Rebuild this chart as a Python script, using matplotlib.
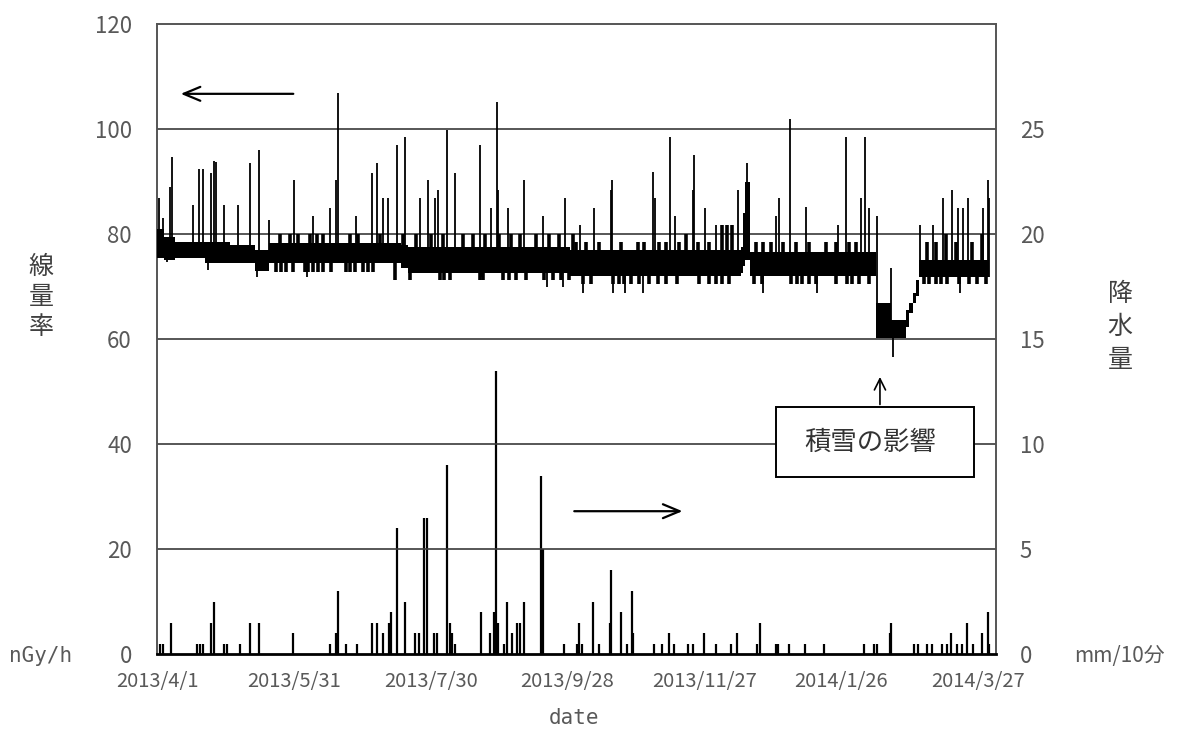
import numpy as np
import matplotlib
matplotlib.use("Agg")
import matplotlib.pyplot as plt
from matplotlib.patches import Rectangle

plt.rcParams['font.family'] = ['Noto Sans CJK JP', 'DejaVu Sans']

# ---------------- data (days since 2013/4/1) ----------------
tick_days = [0, 60, 120, 180, 240, 300, 360]
tick_labels = ["2013/4/1", "2013/5/31", "2013/7/30", "2013/9/28",
               "2013/11/27", "2014/1/26", "2014/3/27"]

# dose-rate band (lower / upper envelope of the dense 10-min series), nGy/h
band_day = [0, 3, 8, 21, 32, 43, 49, 107, 110, 181, 256, 257, 258, 260,
            315.4, 322, 328.5, 330, 331.5, 333, 334.2, 365]
band_lo = [75.5, 75, 75.5, 74.5, 74.5, 73, 74.5, 73.5, 72.5, 72, 72.5, 74, 75, 72,
           60.2, 60.2, 62.3, 64.9, 66.8, 68.1, 71.9, 71.9]
band_hi = [81, 79.5, 78.5, 78.5, 78, 77, 78.3, 78, 77.5, 77, 77.5, 84, 90, 76.5,
           66.9, 63.6, 65.5, 66.8, 68.7, 71.2, 75, 75]

# small upward steps on the band, nGy/h
jag_day = [53.9, 58.3, 61.9, 67.0, 70.0, 72.8, 84.5, 88.2, 97.7, 107.9,
           113.7, 120.3, 125.4, 134.2, 138.6, 143.7, 150.2, 155.4, 159.0, 166.3,
           172.1, 176.5, 182.3, 183.8, 188.2, 194.0, 203.5, 210.8, 213.8, 220.3,
           223.3, 229.1, 232.0, 237.1, 242.2, 248.0, 250.2, 252.4, 262.7, 265.6,
           269.2, 274.4, 280.2, 286.0, 293.3, 297.7, 303.5, 306.5, 337.8, 341.5,
           345.9, 350.3, 357.6, 362.0]
jag_val = [80.0, 80.0, 80.0, 80.0, 80.0, 80.0, 80.0, 80.0, 80.0, 80.0,
           80.0, 80.0, 80.0, 80.0, 80.0, 80.0, 80.0, 80.0, 80.0, 80.0,
           80.0, 80.0, 80.0, 78.5, 78.5, 78.5, 78.5, 78.5, 78.5, 78.5,
           78.5, 78.5, 80.0, 78.5, 78.5, 81.7, 81.7, 81.7, 78.5, 78.5,
           78.5, 78.5, 78.5, 78.5, 78.5, 78.5, 78.5, 78.5, 78.5, 78.5,
           80.0, 78.5, 78.5, 80.0]

# small downward steps on the band, nGy/h
notch_day = [52.4, 54.6, 56.8, 59.7, 64.8, 66.3, 68.5, 70.7, 72.8, 76.5,
             83.1, 84.5, 86.7, 90.4, 92.6, 94.7, 104.2, 110.8, 124.0, 126.1,
             128.3, 141.5, 142.9, 151.7, 154.6, 157.6, 161.9, 169.9, 173.6, 177.3,
             180.9, 186.7, 190.4, 199.9, 202.8, 205.0, 207.9, 211.6, 215.9, 219.6,
             223.3, 227.9, 237.8, 241.9, 245.2, 248.0, 251.0, 261.9, 265.3, 278.0,
             280.9, 283.1, 286.0, 288.9, 297.7, 302.8, 305.0, 307.9, 312.3, 336.4,
             338.6, 341.5, 343.7, 346.6, 351.7, 356.1, 359.7, 363.4]
notch_val = [72.8, 72.8, 72.8, 72.8, 72.8, 72.8, 72.8, 72.8, 72.8, 72.8,
             72.8, 72.8, 72.8, 72.8, 72.8, 72.8, 71.2, 71.2, 71.2, 71.2,
             71.2, 71.2, 71.2, 71.2, 71.2, 71.2, 71.2, 71.2, 71.2, 71.2,
             71.2, 70.5, 70.5, 70.5, 70.5, 70.5, 70.5, 70.5, 70.5, 70.5,
             70.5, 70.5, 70.5, 70.5, 70.5, 70.5, 70.5, 70.5, 70.5, 70.5,
             70.5, 70.5, 70.5, 70.5, 70.5, 70.5, 70.5, 70.5, 70.5, 70.5,
             70.5, 70.5, 70.5, 70.5, 70.5, 70.5, 70.5, 70.5]

# dose-rate peaks, nGy/h
peak_day = [0.9, 2.6, 5.7, 6.6, 15.8,
            18.4, 20.2, 23.7, 25.0, 25.9,
            29.4, 35.5, 40.8, 44.7, 49.1,
            60.1, 68.4, 75.9, 78.5, 79.4,
            87.3, 94.3, 96.5, 99.1, 101.3,
            105.3, 108.8, 115.4, 118.9, 121.9,
            123.2, 127.2, 130.7, 141.7, 146.5,
            149.1, 149.6, 153.9, 161.0, 169.3,
            178.9, 185.5, 191.7, 199.1, 199.6,
            217.5, 218.4, 225.0, 227.2, 235.1,
            235.5, 240.4, 245.2, 250.0, 254.8,
            258.8, 271.5, 272.8, 277.6, 284.6,
            298.7, 302.2, 308.8, 310.5, 312.3,
            315.8, 322.0, 334.6, 340.4, 344.7,
            348.7, 351.3, 353.5, 355.7, 362.3,
            364.3, 364.8]
peak_val = [86.9, 83.0, 89.0, 94.7, 85.5,
            92.4, 92.4, 91.6, 94.0, 93.7,
            85.5, 85.5, 93.5, 96.0, 82.6,
            90.3, 83.4, 85.0, 90.3, 106.8,
            83.4, 91.6, 93.5, 86.9, 86.9,
            97.0, 98.5, 86.9, 90.3, 86.9,
            88.4, 99.8, 91.6, 97.0, 85.0,
            105.1, 88.4, 85.0, 90.3, 83.4,
            86.9, 81.7, 85.0, 88.4, 90.3,
            91.8, 86.9, 98.5, 83.4, 88.4,
            95.0, 85.0, 81.7, 81.7, 88.4,
            93.5, 83.4, 86.9, 101.9, 85.1,
            81.7, 98.5, 86.9, 98.5, 85.0,
            83.4, 73.5, 81.7, 81.7, 86.9,
            88.4, 85.0, 85.0, 86.9, 85.0,
            90.3, 86.9]

# dose-rate dips, nGy/h
dip_day = [4.4, 22.4, 43.9, 65.8, 142.5, 171.1, 178.1, 186.8, 200.0, 205.3,
           213.2, 265.8, 289.5, 322.8, 352.2]
dip_val = [74.7, 73.1, 71.8, 71.8, 71.8, 69.9, 69.9, 68.8, 68.8, 68.8,
           68.8, 68.8, 68.8, 56.6, 68.8]

# precipitation, mm/10min
rain_day = [1.5, 2.5, 6.1, 17.5, 18.8, 20.1, 23.7, 25.0, 29.3, 30.7,
            36.4, 40.7, 44.7, 59.6, 75.8, 78.4, 79.3, 82.8, 87.6, 94.2,
            96.4, 99.0, 101.6, 102.5, 105.1, 108.6, 113.0, 114.8, 116.9, 118.3,
            121.3, 122.6, 127.0, 128.3, 129.2, 130.5, 141.9, 145.9, 148.0, 148.9,
            149.4, 152.0, 153.7, 155.5, 157.7, 159.0, 160.8, 168.6, 169.1, 178.7,
            184.0, 185.3, 186.6, 191.4, 194.0, 198.9, 199.3, 203.7, 206.3, 208.5,
            208.9, 218.1, 221.6, 224.7, 226.9, 233.0, 235.2, 240.0, 245.3, 251.9,
            254.5, 263.2, 264.6, 271.6, 272.4, 277.3, 284.3, 292.6, 310.1, 314.5,
            315.8, 321.5, 321.9, 332.0, 333.8, 337.7, 339.9, 344.3, 346.5, 348.2,
            350.9, 353.0, 355.2, 357.9, 361.8, 364.5, 364.9]
rain_mm = [0.5, 0.5, 1.5, 0.5, 0.5, 0.5, 1.5, 2.5, 0.5, 0.5,
           0.5, 1.5, 1.5, 1.0, 0.5, 1.0, 3.0, 0.5, 0.5, 1.5,
           1.5, 1.0, 1.5, 2.0, 6.0, 2.5, 1.0, 1.0, 6.5, 6.5,
           1.0, 1.0, 9.0, 1.5, 1.0, 0.5, 2.0, 1.0, 2.0, 13.5,
           1.5, 0.5, 2.5, 1.0, 1.5, 1.5, 2.5, 8.5, 5.0, 0.5,
           0.5, 1.5, 0.5, 2.5, 0.5, 1.5, 4.0, 2.0, 0.5, 3.0,
           1.0, 0.5, 0.5, 1.0, 0.5, 0.5, 0.5, 1.0, 0.5, 0.5,
           1.0, 0.5, 1.5, 0.5, 0.5, 0.5, 0.5, 0.5, 0.5, 0.5,
           0.5, 1.0, 1.5, 0.5, 0.5, 0.5, 0.5, 0.5, 0.5, 1.0,
           0.5, 0.5, 1.5, 0.5, 1.0, 2.0, 0.5]

# ---------------- figure ----------------
W, H = 1185, 736
fig = plt.figure(figsize=(W / 100, H / 100), dpi=100)
L, R, B, T = 157, 996, 654, 24
ax = fig.add_axes([L / W, 1 - B / H, (R - L) / W, (B - T) / H])
ax2 = ax.twinx()

gray_txt = '#595959'
grid_c = '#3a3a3a'

ax.set_xlim(0, 368)
ax.set_ylim(0, 120)
ax2.set_ylim(0, 30)

for v in [20, 40, 60, 80, 100]:
    ax.axhline(v, color=grid_c, lw=1.2, zorder=1)

# dose band + texture + peaks
ax.fill_between(band_day, band_lo, band_hi, step='post', color='black', lw=0, zorder=3)
bd = np.array(band_day)
blo = np.array(band_lo)
bhi = np.array(band_hi)


def band_at(days):
    i = np.clip(np.searchsorted(bd, days, side='right') - 1, 0, len(bd) - 1)
    return blo[i], bhi[i]


lo_j, hi_j = band_at(jag_day)
ax.vlines(jag_day, hi_j - 1, jag_val, color='black', lw=2.6, zorder=3)
lo_n, hi_n = band_at(notch_day)
ax.vlines(notch_day, notch_val, lo_n + 1, color='black', lw=2.6, zorder=3)
lo_p, hi_p = band_at(peak_day)
ax.vlines(peak_day, lo_p, peak_val, color='black', lw=1.3, zorder=3)
lo_d, hi_d = band_at(dip_day)
ax.vlines(dip_day, dip_val, hi_d, color='black', lw=1.3, zorder=3)

# rain
ax2.vlines(rain_day, 0, rain_mm, color='black', lw=1.6, zorder=3)

# spines / ticks
for a in (ax, ax2):
    for s in ['left', 'right', 'top']:
        a.spines[s].set_color('#555555')
        a.spines[s].set_linewidth(1.2)
ax.spines['bottom'].set_color('black')
ax.spines['bottom'].set_linewidth(2)
ax2.spines['bottom'].set_visible(False)

ax.set_yticks([0, 20, 40, 60, 80, 100, 120])
ax.tick_params(axis='y', length=0, pad=18, labelsize=16, labelcolor=gray_txt)
ax2.set_yticks([0, 5, 10, 15, 20, 25])
ax2.tick_params(axis='y', length=0, pad=17, labelsize=16, labelcolor=gray_txt)
ax.set_xticks(tick_days)
ax.set_xticklabels(tick_labels)
ax.tick_params(axis='x', length=0, pad=12, labelsize=14.5, labelcolor=gray_txt)

# axis titles
fig.text(41 / W, 1 - 297 / H, "線\n量\n率", ha='center', va='center',
         fontsize=18, color='#404040', linespacing=1.2)
fig.text(1120 / W, 1 - 327 / H, "降\n水\n量", ha='center', va='center',
         fontsize=18, color='#404040', linespacing=1.35)
fig.text(41 / W, 1 - 656 / H, "nGy/h", ha='center', va='center',
         fontsize=15, color=gray_txt, family=['DejaVu Sans Mono'])
fig.text(1119 / W, 1 - 656 / H, "mm/10分", ha='center', va='center',
         fontsize=15, color=gray_txt)
fig.text(574 / W, 1 - 718 / H, "date", ha='center', va='center',
         fontsize=15, color=gray_txt, family=['DejaVu Sans Mono'])

# arrows
ax.annotate("", xy=(9.2, 106.7), xytext=(61, 106.7),
            arrowprops=dict(arrowstyle='->,head_length=1.2,head_width=0.5', lw=1.6, color='black'),
            zorder=5)
ax.annotate("", xy=(231.7, 27.2), xytext=(181.8, 27.2),
            arrowprops=dict(arrowstyle='->,head_length=1.2,head_width=0.5', lw=1.6, color='black'),
            zorder=5)
ax.annotate("", xy=(317.1, 53.3), xytext=(317.1, 47.0),
            arrowprops=dict(arrowstyle='->,head_length=0.8,head_width=0.4', lw=1.2, color='black'),
            zorder=5)
ax.add_patch(Rectangle((271.6, 33.7), 358.3 - 271.6, 47.0 - 33.7, facecolor='white',
                       edgecolor='black', lw=1.4, zorder=6))
ax.text(313.0, 40.4, "積雪の影響", ha='center', va='center', fontsize=19,
        color='#333333', zorder=7)

ax.set_zorder(ax2.get_zorder() + 1)
ax.patch.set_visible(False)

fig.savefig("out.png", dpi=100)
